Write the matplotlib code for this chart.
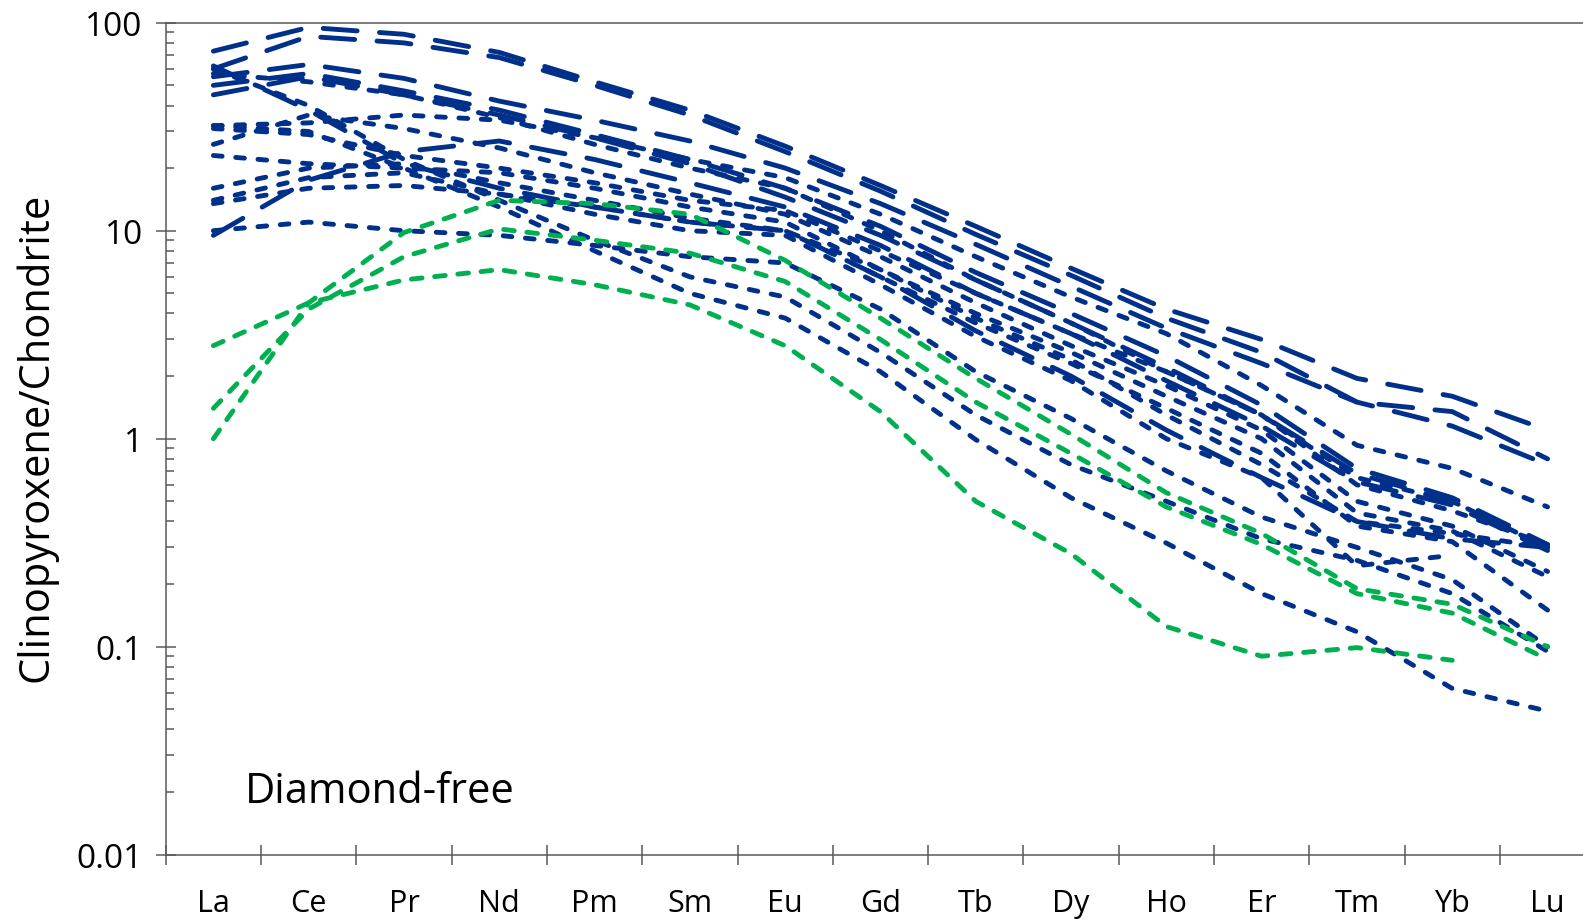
import numpy as np
import matplotlib
matplotlib.use("Agg")
import matplotlib.pyplot as plt
from matplotlib.ticker import FixedLocator, NullFormatter, LogLocator

plt.rcParams['font.family'] = ['Open Sans', 'DejaVu Sans']

elements = ['La', 'Ce', 'Pr', 'Nd', 'Pm', 'Sm', 'Eu', 'Gd',
            'Tb', 'Dy', 'Ho', 'Er', 'Tm', 'Yb', 'Lu']
nan = np.nan

# long-dashed samples
long_dash = [
    [73, 95, 88, 72, 52, 38, 25.5, 16.5, 10.5, 6.6, 4.2, 3.0, 1.95, 1.6, 1.1],
    [60, 86, 80, 68, 50, 36, 24, 15.5, 9.6, 6.1, 3.8, 2.6, 1.5, 1.35, 0.8],
    [55, 63, 54, 42, 34, 27, 20, 13.5, 8.6, 5.4, 3.4, 2.3, 1.5, 1.15, 0.75],
    [50, 57, 47, 38, 29, 22, 16, 10.5, 6.3, 4.0, 2.5, 1.45, 0.72, 0.52, 0.31],
    [45, 55, 45, 36, 28, 21, 14.5, 9.5, 5.8, 3.6, 2.2, 1.3, 0.68, 0.5, 0.3],
    [9.5, 17.5, 24, 27, 22, 17, 13, 8.5, 5.0, 3.2, 1.9, 1.15, 0.62, 0.48, 0.29],
    [62, 38, 21, 16, 13, 11, 10, 6, 3.3, 2.0, 1.1, 0.65, 0.4, 0.33, 0.3],
]

# short-dashed samples
short_dash = [
    [32, 33, 36, 34, 28, 22, 18, 12, 7.5, 4.8, 3.2, 1.8, 0.93, 0.72, 0.47],
    [31, 29, 23, 20, 17, 14, 12.5, 8, 5, 3.2, 2.1, 1.3, 0.6, 0.45, 0.31],
    [26, 36, 31, 25, 19, 15, 12, 7.5, 4.5, 2.8, 1.8, 1.1, 0.5, 0.38, 0.23],
    [23, 21, 20, 19, 16, 13, 11, 6.5, 4.0, 2.6, 1.6, 1.0, 0.44, 0.36, 0.217],
    [16, 20, 21, 17, 14, 11.5, 10, 6, 3.6, 2.3, 1.4, 0.85, 0.38, 0.32, 0.15],
    [14, 18, 19, 15, 12, 10, 9.5, 5.5, 3.1, 1.9, 1.0, 0.65, 0.245, 0.275, nan],
    [13.5, 16, 16.5, 15, 13, 11, 10, 6.5, 3.8, 2.4, 1.3, 0.75, 0.4, 0.35, 0.3],
    [10, 11, 10, 9.5, 8.5, 7.5, 7, 4.2, 2.1, 1.25, 0.7, 0.42, 0.3, 0.21, 0.1],
    [57, 52, 45, 35, 26, 20, 16, 10, 5.8, 3.6, 2.1, 1.3, 0.65, 0.5, 0.3],
    [60, 40, 22, 14, 9, 6, 4.8, 2.6, 1.3, 0.75, 0.5, 0.33, 0.26, 0.18, 0.095],
    [32, 30, 20, 13, 8, 5, 3.8, 2.1, 0.99, 0.52, 0.315, 0.18, 0.118, 0.063, 0.049],
]

# green samples
green = [
    [2.8, 4.5, 5.8, 6.5, 5.5, 4.4, 2.8, 1.35, 0.5, 0.28, 0.125, 0.09, 0.099, 0.086, nan],
    [1.4, 4.2, 7.5, 10.2, 9, 7.8, 5.7, 3.0, 1.5, 0.85, 0.47, 0.31, 0.18, 0.145, 0.087],
    [1.0, 4.5, 9.8, 14, 13.5, 12, 7.2, 3.8, 1.95, 1.05, 0.55, 0.35, 0.19, 0.16, 0.1],
]

blue = '#00308A'
grn = '#00B050'
lw = 3.5

fig = plt.figure(figsize=(15.83, 9.20), dpi=100)
ax = fig.add_axes([0.1047, 0.0699, 0.903, 0.9043])

x = np.arange(len(elements))

def draw(series, color, dashes):
    for s in series:
        y = np.array(s, dtype=float)
        ok = ~np.isnan(y)
        ax.plot(x[ok], y[ok], color=color, lw=lw, dashes=dashes,
                dash_capstyle='round', solid_capstyle='round', zorder=3)

draw(long_dash, blue, (7.0, 4.6))
draw(short_dash, blue, (1.8, 2.8))
draw(green, grn, (2.2, 2.6))

ax.set_yscale('log')
ax.set_ylim(0.01, 100)
ax.set_xlim(-0.5, len(elements) - 0.5)

# category boundaries carry the tick marks, labels sit in the middle
ax.xaxis.set_major_locator(FixedLocator(np.arange(-0.5, len(elements), 1.0)))
ax.xaxis.set_major_formatter(NullFormatter())
ax.xaxis.set_minor_locator(FixedLocator(x))
ax.set_xticklabels(elements, minor=True)
ax.tick_params(axis='x', which='major', direction='inout', length=15, width=1.1, color='#595959')
ax.tick_params(axis='x', which='minor', length=0, labelsize=22, pad=24)

ax.yaxis.set_major_locator(FixedLocator([0.01, 0.1, 1, 10, 100]))
ax.set_yticklabels(['0.01', '0.1', '1', '10', '100'])
ax.yaxis.set_minor_locator(LogLocator(base=10, subs=np.arange(2, 10)))
ax.yaxis.set_minor_formatter(NullFormatter())
ax.tick_params(axis='y', which='major', direction='inout', length=15, width=1.1,
               color='#595959', labelsize=24, pad=9)
ax.tick_params(axis='y', which='minor', direction='in', length=6, width=1.1, color='#595959')

for side in ['left', 'bottom', 'top', 'right']:
    ax.spines[side].set_color('#595959')
    ax.spines[side].set_linewidth(1.1)

ax.text(0.33, 0.0202, 'Diamond-free', fontsize=30, va='center', ha='left')
fig.text(0.0227, 0.525, 'Clinopyroxene/Chondrite', rotation=90, fontsize=30,
         va='center', ha='center')

fig.savefig('out.png', dpi=100)
